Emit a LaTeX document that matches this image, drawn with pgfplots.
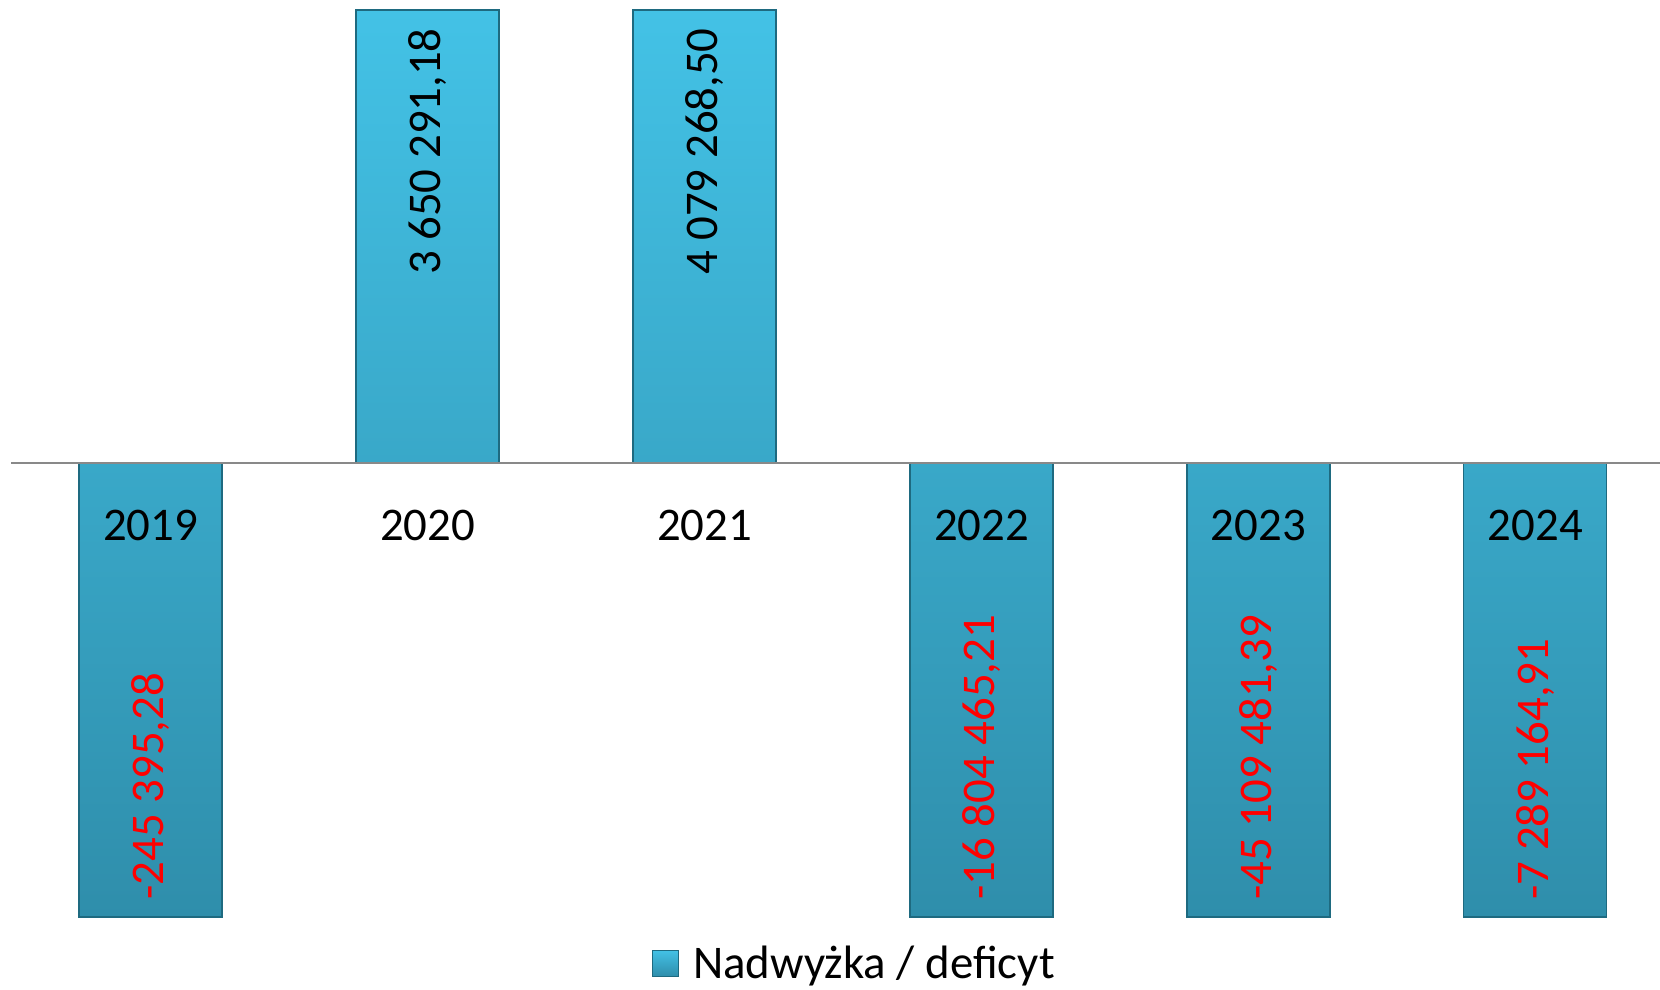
\documentclass[border=0pt]{standalone}
\usepackage{fontspec}
\setmainfont{Carlito}
\usepackage{pgfplots}
\pgfplotsset{compat=1.18}
\definecolor{bartop}{HTML}{43C2E6}
\definecolor{barbot}{HTML}{2F8EAB}
\definecolor{baredge}{HTML}{1E6A80}
\definecolor{zeroline}{HTML}{898989}
\newcommand{\lbl}{\fontsize{23.5}{28}\selectfont}
\pgfplotstableread{
x y
0 -245395.28
1 3650291.18
2 4079268.50
3 -16804465.21
4 -45109481.39
5 -7289164.91
}\datatable
\begin{document}
\begin{tikzpicture}
\begin{axis}[
 scale only axis, width=824.5bp, height=453.5bp,
 xmin=-0.504, xmax=5.45, ymin=-1, ymax=1,
 axis x line=middle, axis y line=none,
 axis line style={zeroline, line width=1bp, -},
 xtick={0,...,5}, xticklabels={2019,2020,2021,2022,2023,2024},
 hide obscured x ticks=false,
 major tick length=0pt,
 xticklabel style={anchor=center, yshift=-31bp, font=\lbl},
 ytick=\empty,
 axis on top,
 clip=false,
 legend style={draw=none, fill=none, at={(0.512,-0.051)}, anchor=center, font=\lbl, inner sep=0pt, column sep=5bp},
 legend image code/.code={\draw[#1] (0bp,-6.5bp) rectangle (13bp,6.5bp);},
]
\addplot[ybar, bar width=71.5bp, draw=baredge, line width=0.6bp, top color=bartop, bottom color=barbot,
  y filter/.code={\pgfmathparse{min(max(\pgfmathresult,-1),1)}}] table[x=x, y=y] {\datatable};
\addlegendentry{Nadwyżka / deficyt}
\node[rotate=90, anchor=east, inner xsep=9bp, inner ysep=0pt, font=\lbl] at (axis cs:1,1) {3 650 291,18};
\node[rotate=90, anchor=east, inner xsep=9bp, inner ysep=0pt, font=\lbl] at (axis cs:2,1) {4 079 268,50};
\node[rotate=90, anchor=west, inner xsep=8.5bp, inner ysep=0pt, font=\lbl, text=red] at (axis cs:0,-1) {-245 395,28};
\node[rotate=90, anchor=west, inner xsep=8.5bp, inner ysep=0pt, font=\lbl, text=red] at (axis cs:3,-1) {-16 804 465,21};
\node[rotate=90, anchor=west, inner xsep=8.5bp, inner ysep=0pt, font=\lbl, text=red] at (axis cs:4,-1) {-45 109 481,39};
\node[rotate=90, anchor=west, inner xsep=8.5bp, inner ysep=0pt, font=\lbl, text=red] at (axis cs:5,-1) {-7 289 164,91};
\coordinate (bl) at (rel axis cs:0,0);
\coordinate (tr) at (rel axis cs:1,1);
\end{axis}
\pgfresetboundingbox
\path[use as bounding box] ([xshift=-5.5bp,yshift=-36.5bp]bl) rectangle ([yshift=5bp]tr);
\end{tikzpicture}
\end{document}
